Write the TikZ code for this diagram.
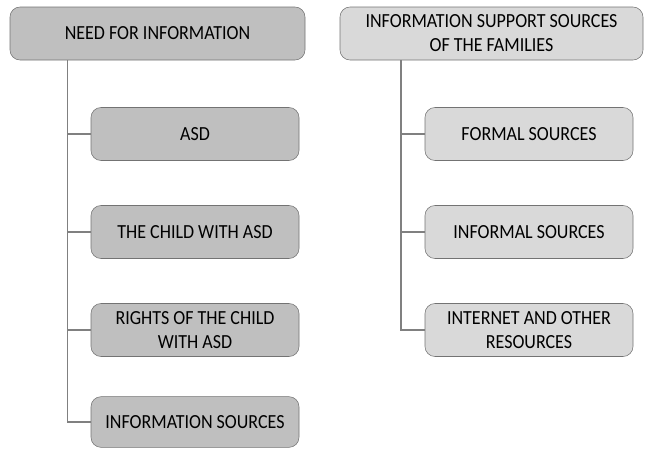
\documentclass[tikz,border=0pt]{standalone}
\usepackage{fontspec}
\setmainfont[FakeStretch=0.9]{Carlito}
\tikzset{darkbox/.style = {draw=gray!110, fill=gray!50, rounded corners=7.5pt, align=center,
                           minimum height=39.75pt, inner sep=0pt, font=\fontsize{15}{18}\selectfont},
         lightbox/.style = {darkbox, fill=gray!30},
         branch/.style = {draw=gray, line width=0.8pt}}
\begin{document}
\begin{tikzpicture}[x=0.75pt, y=-0.75pt]
  	\useasboundingbox (0,0) rectangle (645,450);
  	% left column
  	\node[darkbox, minimum width=221.25pt] (need) at (157.5,33.5) {NEED FOR INFORMATION};
  	\node[darkbox, minimum width=156pt] (asd) at (195,134) {ASD};
  	\node[darkbox, minimum width=156pt] (child) at (195,232) {THE CHILD WITH ASD};
  	\node[darkbox, minimum width=156pt] (rights) at (195,330) {RIGHTS OF THE CHILD\\WITH ASD};
  	\node[darkbox, minimum width=156pt, minimum height=38pt] (sources) at (195,422) {INFORMATION SOURCES};
  	\coordinate (lspine) at (67.5,0);
    \draw[branch] (lspine |- need.south) |- (sources.west);
    \draw[branch] (lspine |- asd.west) -- (asd.west);
    \draw[branch] (lspine |- child.west) -- (child.west);
    \draw[branch] (lspine |- rights.west) -- (rights.west);
  	% right column
  	\node[lightbox, minimum width=227.25pt] (support) at (491.5,33.5) {INFORMATION SUPPORT SOURCES\\OF THE FAMILIES};
  	\node[lightbox, minimum width=156pt] (formal) at (529,134) {FORMAL SOURCES};
  	\node[lightbox, minimum width=156pt] (informal) at (529,232) {INFORMAL SOURCES};
  	\node[lightbox, minimum width=156pt] (internet) at (529,330) {INTERNET AND OTHER\\RESOURCES};
  	\coordinate (rspine) at (401,0);
    \draw[branch] (rspine |- support.south) |- (internet.west);
    \draw[branch] (rspine |- formal.west) -- (formal.west);
    \draw[branch] (rspine |- informal.west) -- (informal.west);
  \end{tikzpicture}
\end{document}
